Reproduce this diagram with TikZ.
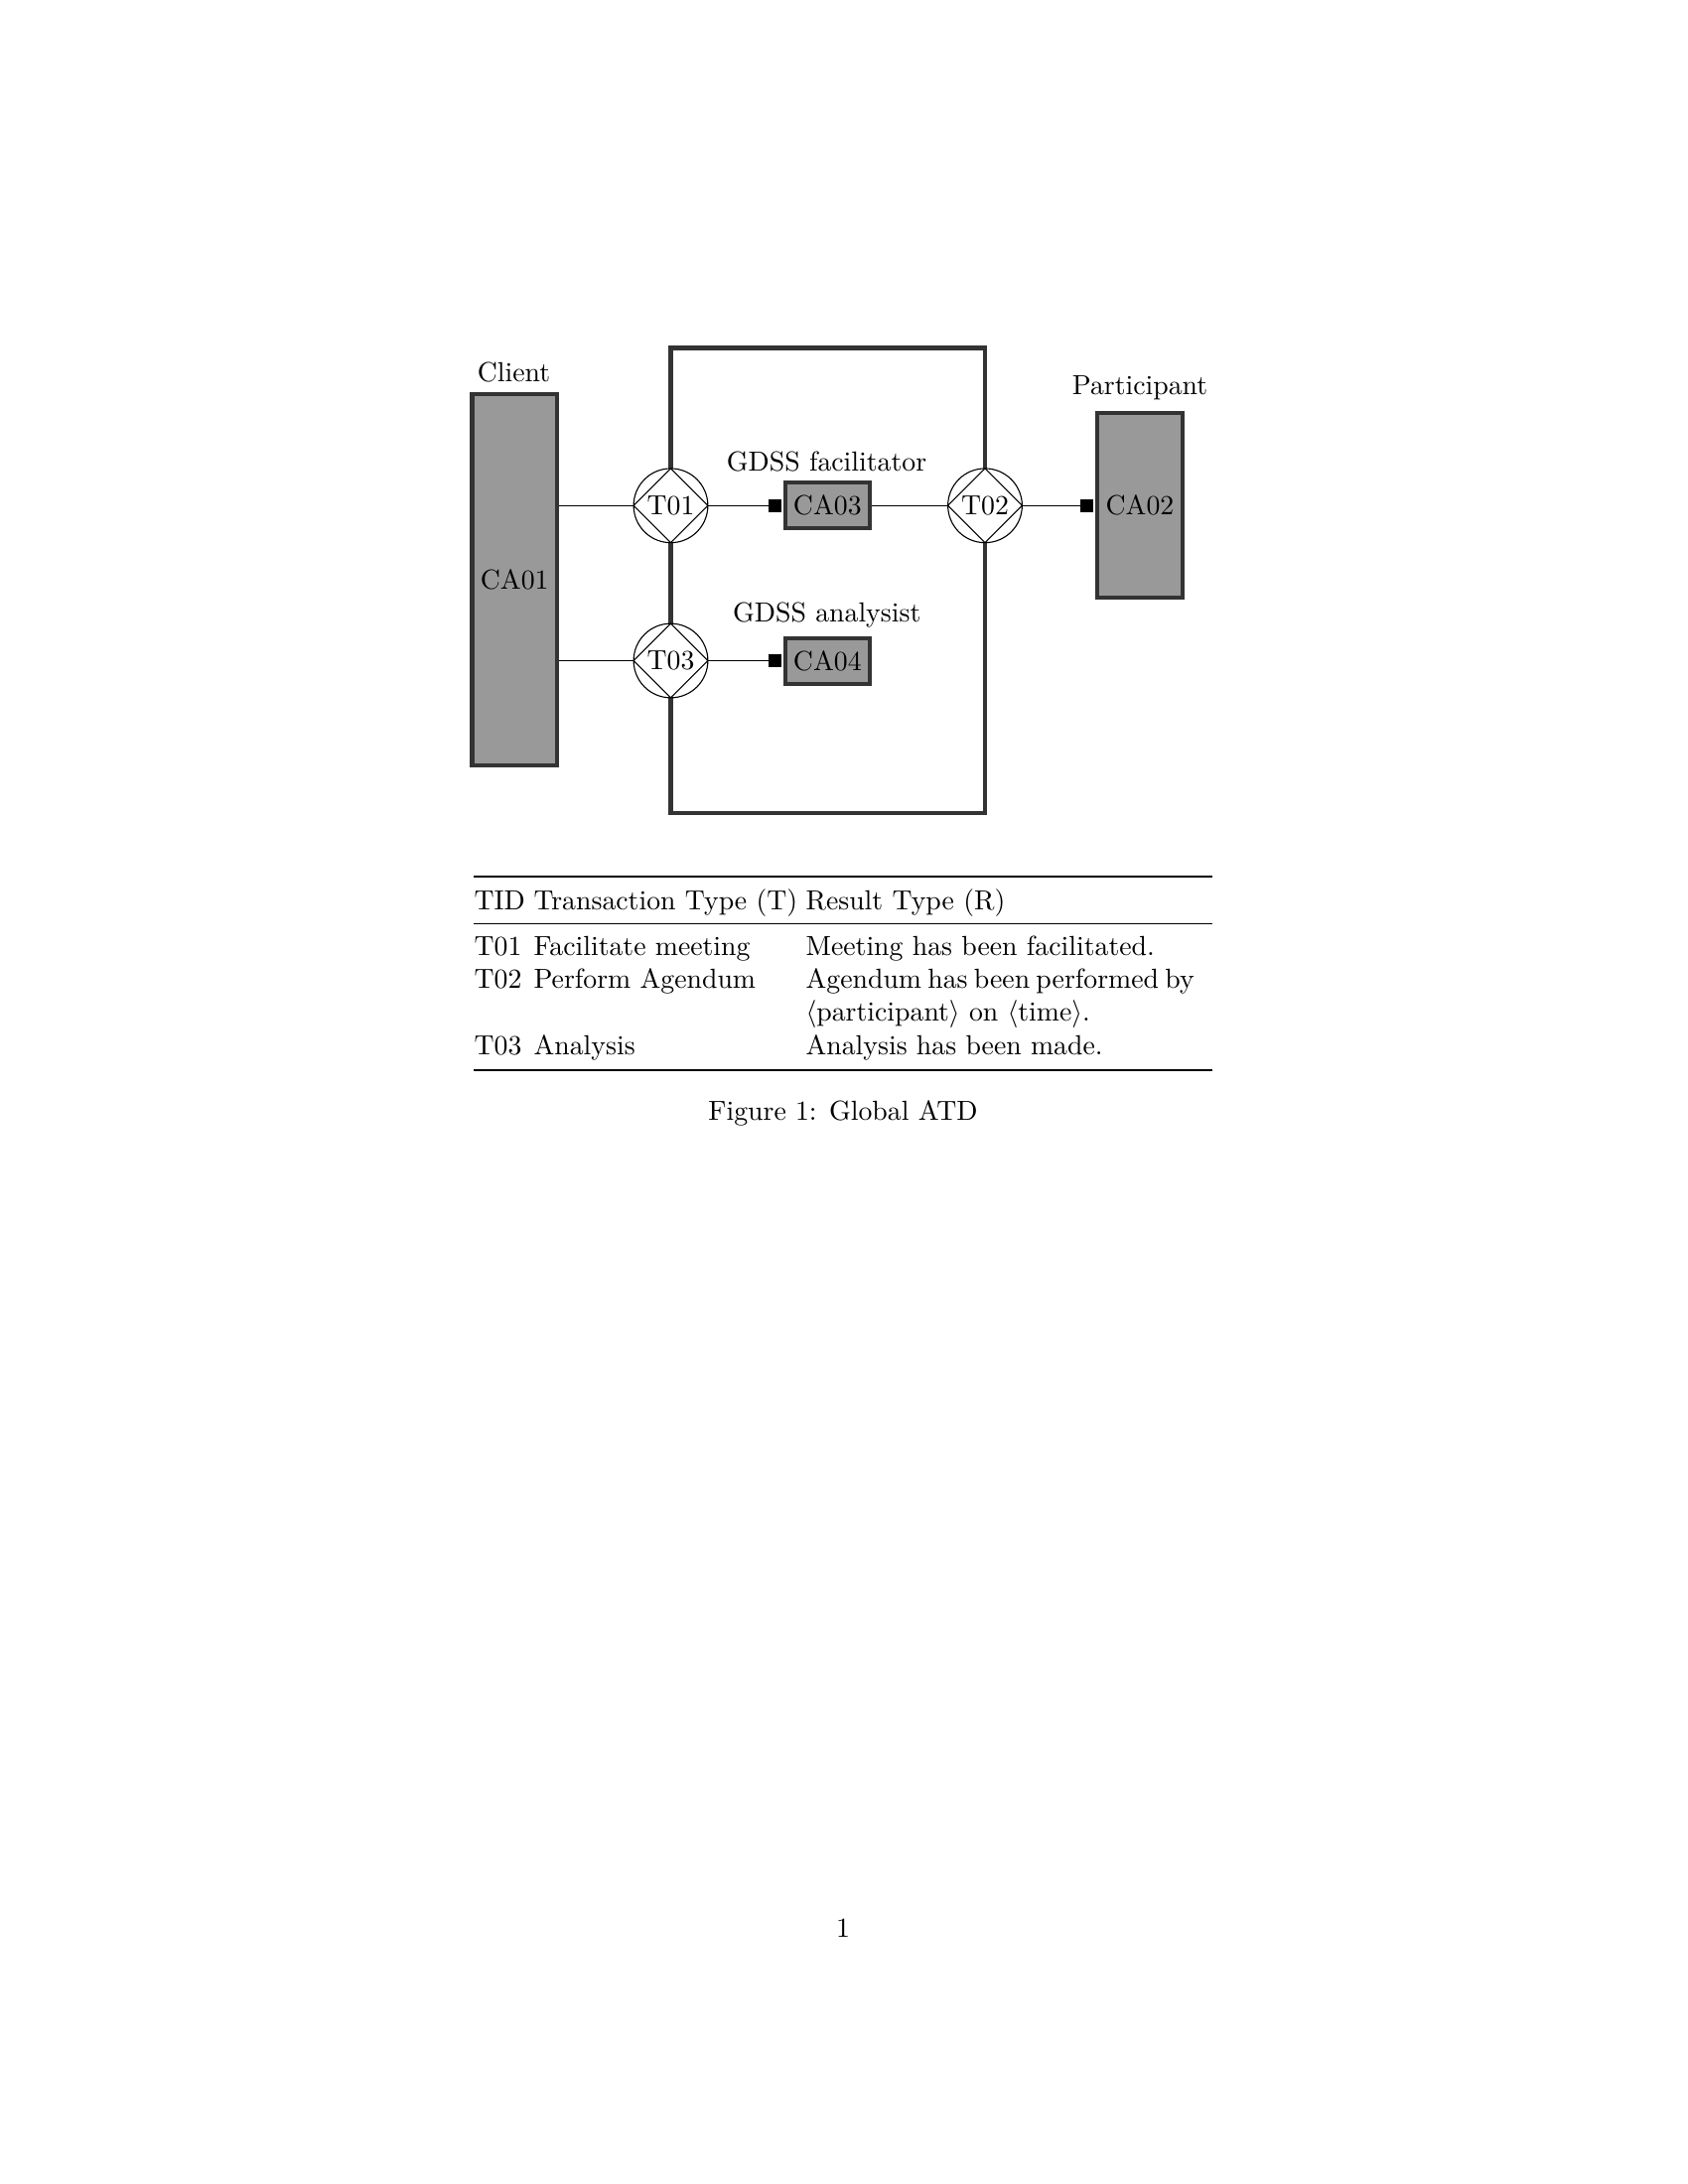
\documentclass[tikz,border=0pt]{standalone}
\usetikzlibrary{arrows.meta}
\begin{document}
\begin{tikzpicture}[x=0.36pt,y=-0.36pt,
  actor/.style={draw=black!80, fill=black!40, line width=1.5pt, inner sep=0pt, minimum width=30.7pt},
  transnode/.style={circle, draw=black, line width=0.4pt, fill=white, minimum size=26.9pt, inner sep=0pt,
     path picture={\draw[line width=0.4pt] (path picture bounding box.north) -- (path picture bounding box.east) -- (path picture bounding box.south) -- (path picture bounding box.west) -- cycle;}},
  sysframe/.style={draw=black!80, line width=1.5pt, inner sep=0pt, minimum width=113.9pt, minimum height=168.7pt},
  conn/.style={draw=black, line width=0.4pt},
  sq/.style={-{Square[length=4.6pt,width=4.8pt]}, shorten >=0.75pt},
  lbl/.style={anchor=base, inner sep=0pt},
  cell/.style={anchor=base west, inner sep=0pt},
  heavyrule/.style={line width=0.8pt},
  lightrule/.style={line width=0.5pt}
]
\useasboundingbox (0,0) rectangle (1700,2200);

% system frame
\node[sysframe] (sys) at (833.75,584.75) {};

% transactions
\node[transnode] (T01) at (675.5,509.3) {T01};
\node[transnode] (T03) at (675.5,665.5) {T03};
\node[transnode] (T02) at (992,509.3) {T02};

% actors
\node[actor, minimum height=134.7pt] (CA01) at (518.2,583.8) {CA01};
\node[actor, minimum height=67.1pt] (CA02) at (1148,508.8) {CA02};
\node[actor, minimum height=16.5pt] (CA03) at (833.3,509.3) {CA03};
\node[actor, minimum height=16.5pt] (CA04) at (833.3,665.7) {CA04};

% labels
\node[lbl] (lclient) at (517.5,384.5) {Client};
\node[lbl] (lpart) at (1148,397) {Participant};
\node[lbl] (lfac) at (832.5,474) {GDSS facilitator};
\node[lbl] (lana) at (832.7,626) {GDSS analysist};

% connectors
\draw[conn] (CA01.east |- T01.west) -- (T01.west);
\draw[conn, sq] (T01.east) -- (T01.east -| CA03.west);
\draw[conn] (CA03.east) -- (CA03.east -| T02.west);
\draw[conn, sq] (T02.east) -- (T02.east -| CA02.west);
\draw[conn] (CA01.east |- T03.west) -- (T03.west);
\draw[conn, sq] (T03.east) -- (T03.east -| CA04.west);

% table rules
\coordinate (tl) at (477,883.3);
\coordinate (tr) at (1220.7,883.3);
\coordinate (ml) at (477,930.5);
\coordinate (mr) at (1220.7,930.5);
\coordinate (bl) at (477,1078);
\coordinate (br) at (1220.7,1078);
\draw[heavyrule] (tl) -- (tr);
\draw[lightrule] (ml) -- (mr);
\draw[heavyrule] (bl) -- (br);

% table text
\node[cell] (h1) at (477,916) {TID};
\node[cell] (h2) at (537,916) {Transaction Type (T)};
\node[cell] (h3) at (811,916) {Result Type (R)};
\node[cell] (r11) at (477,962.5) {T01};
\node[cell] (r12) at (537,962.5) {Facilitate meeting};
\node[cell] (r13) at (811,962.5) {Meeting has been facilitated.};
\node[cell] (r21) at (477,995.5) {T02};
\node[cell] (r22) at (537,995.5) {Perform Agendum};
\node[cell] (r23) at (811,995.5) {\makebox[140.8pt][s]{Agendum has been performed by}};
\node[cell] (r23b) at (811,1028.5) {$\langle$participant$\rangle$ on $\langle$time$\rangle$.};
\node[cell] (r31) at (477,1062) {T03};
\node[cell] (r32) at (537,1062) {Analysis};
\node[cell] (r33) at (811,1062) {Analysis has been made.};

% caption and page number
\node[lbl] (caption) at (849,1128) {Figure 1: Global ATD};
\node[lbl] (pageno) at (849,1951) {1};
\end{tikzpicture}
\end{document}
